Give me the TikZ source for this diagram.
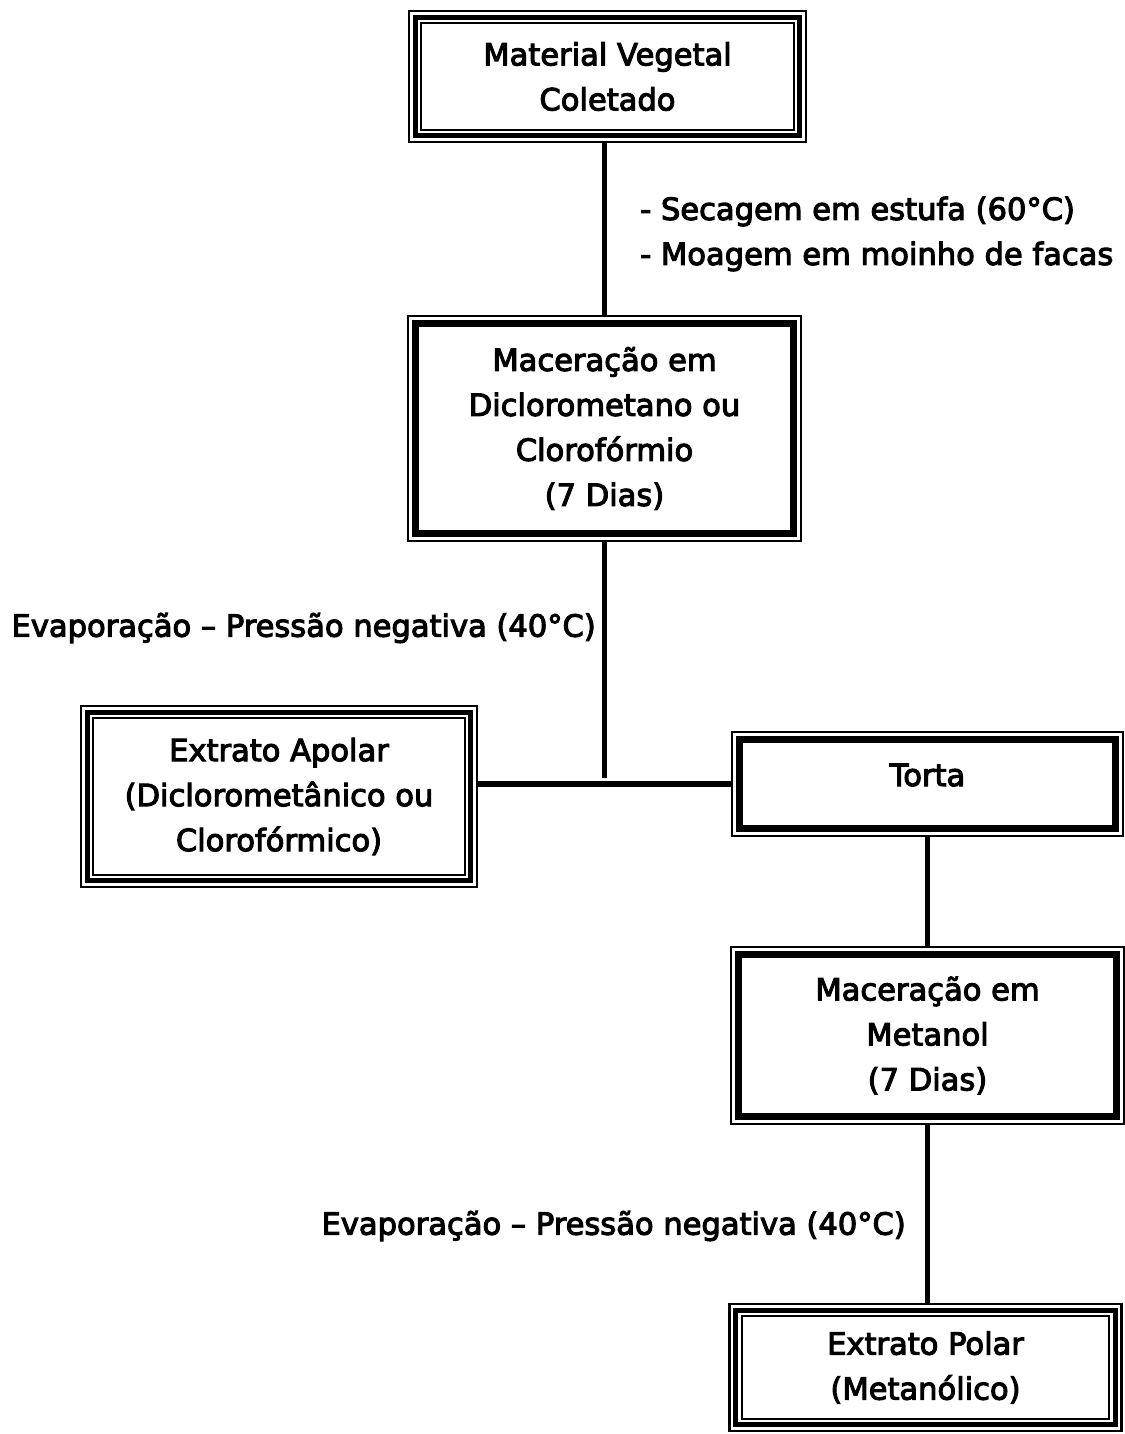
\documentclass[tikz,border=0pt]{standalone}
\usepackage{fontspec}
\setmainfont{DejaVu Sans}[FakeBold=3.5,AutoFakeBold=3.5]
\newcommand\tripleframe[1]{%
  \draw[line width=1.9pt] ([shift={(1.25,1.25)}]#1.north west) rectangle ([shift={(-1.25,-1.25)}]#1.south east);
  \draw[line width=3.6pt] ([shift={(7.5,7.5)}]#1.north west) rectangle ([shift={(-7.5,-7.5)}]#1.south east);
  \draw[line width=1.6pt] ([shift={(13.5,13.5)}]#1.north west) rectangle ([shift={(-13.5,-13.5)}]#1.south east);
}
\newcommand\ttframe[1]{%
  \draw[line width=1.5pt] ([shift={(1,1)}]#1.north west) rectangle ([shift={(-1,-1)}]#1.south east);
  \draw[line width=5.25pt] ([shift={(8.5,8.5)}]#1.north west) rectangle ([shift={(-8.5,-8.5)}]#1.south east);
}
\begin{document}
\begin{tikzpicture}[x=0.75pt,y=-0.75pt,
  txt/.style={font=\fontsize{22.9}{33.75}\selectfont\bfseries, align=center, inner sep=0pt},
  boxnode/.style={txt, rectangle, fill=white, draw=none},
  conn/.style={line width=4.1pt}]
\useasboundingbox[fill=white] (0,0) rectangle (1124,1434);

\node[boxnode, minimum width=299.25pt, minimum height=99.75pt] (mat) at (607.5,76.5) {Material Vegetal\\Coletado};
\node[boxnode, minimum width=296.25pt, minimum height=170.25pt] (mac1) at (604.5,428.5) {Maceração em\\Diclorometano ou\\Clorofórmio\\(7 Dias)};
\node[boxnode, minimum width=298.5pt, minimum height=137.25pt] (apolar) at (279,796.5) {Extrato Apolar\\(Diclorometânico ou\\Clorofórmico)};
\node[boxnode, minimum width=294.75pt, minimum height=79.5pt] (torta) at (927.5,784) {\raisebox{-1.5pt}[0pt][0pt]{Torta}};
\node[boxnode, minimum width=295.5pt, minimum height=134.25pt] (mac2) at (927.5,1035.5) {Maceração em\\Metanol\\(7 Dias)};
\node[boxnode, minimum width=295.5pt, minimum height=96.75pt] (polar) at (925.5,1367.5) {Extrato Polar\\(Metanólico)};

\coordinate (j) at (604.5,778);

\draw[conn] (mac1.north |- mat.south) -- (mac1.north);
\draw[conn] (mac1.south) -- (j);
\draw[conn] (apolar.east |- torta.west) -- (torta.west);
\draw[conn] (torta.south) -- (mac2.north);
\draw[conn] (mac2.south) -- (mac2.south |- polar.north);

\tripleframe{mat}
\tripleframe{apolar}
\tripleframe{polar}
\ttframe{mac1}
\ttframe{torta}
\ttframe{mac2}

\node[txt, anchor=west, align=left] (l1) at (640,234) {- Secagem em estufa (60°C)\\- Moagem em moinho de facas};
\node[txt, anchor=east] (l2) at (596,628) {Evaporação – Pressão negativa (40°C)};
\node[txt, anchor=east] (l3) at (906,1226) {Evaporação – Pressão negativa (40°C)};
\end{tikzpicture}
\end{document}
